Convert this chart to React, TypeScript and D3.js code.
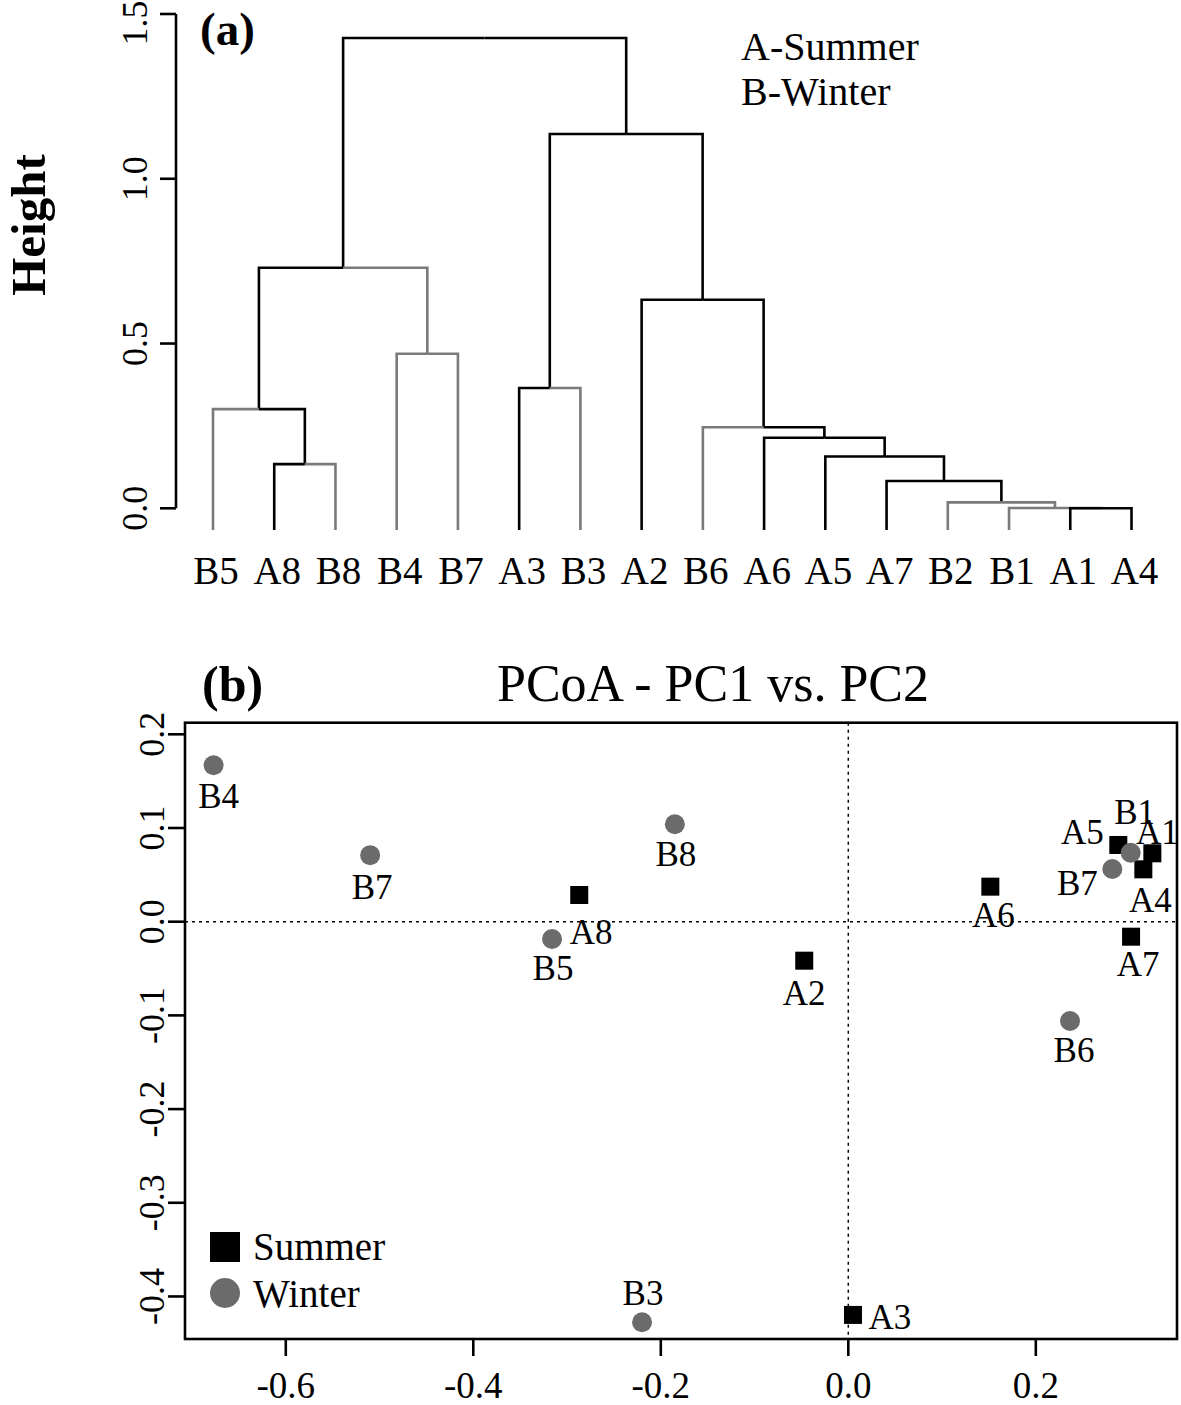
import React from "react";
import * as d3 from "d3";

// ---------- Panel (a): dendrogram data ----------
const leaves = ["B5", "A8", "B8", "B4", "B7", "A3", "B3", "A2", "B6", "A6", "A5", "A7", "B2", "B1", "A1", "A4"];
// merges: [left child, right child, height]; internal nodes are named n1, n2, ... in order
const mergeLeft = ["A1", "B1", "B2", "A7", "A5", "A8", "A6", "B6", "B5", "A3", "B4", "A2", "n9", "n10", "n13"];
const mergeRight = ["A4", "n1", "n2", "n3", "n4", "B8", "n5", "n7", "n6", "B3", "B7", "n8", "n11", "n12", "n14"];
const mergeHeight = [0.0, 0.001, 0.018, 0.083, 0.157, 0.134, 0.214, 0.246, 0.301, 0.365, 0.469, 0.633, 0.73, 1.136, 1.427];
const grayEdges = ["B5", "B8", "n11", "B4", "B7", "B3", "B6", "B2", "n2", "B1", "n1"];
const heightTicks = [0, 0.5, 1.0, 1.5];
const leafHang = -0.066;

// ---------- Panel (b): PCoA data ----------
const sampleNames = ["B4", "B7", "B8", "A8", "B5", "A2", "B3", "A3", "A6", "B6", "A7", "A5", "B1", "A1", "A4", "B7"];
const sampleSeason = ["Winter", "Winter", "Winter", "Summer", "Winter", "Summer", "Winter", "Summer", "Summer", "Winter", "Summer", "Summer", "Winter", "Summer", "Summer", "Winter"];
const pc1 = [-0.677, -0.510, -0.185, -0.287, -0.316, -0.047, -0.220, 0.005, 0.1515, 0.2365, 0.3016, 0.288, 0.3012, 0.3243, 0.3147, 0.2816];
const pc2 = [0.167, 0.071, 0.104, 0.0285, -0.0185, -0.0416, -0.4275, -0.4197, 0.0374, -0.106, -0.016, 0.0819, 0.0736, 0.073, 0.0559, 0.0562];
// label offsets (px) relative to point, styling only
const labelDx = [5, 2, 1, 12, 1, 0, 1, 37, 3, 4, 7, -36, 4, 5, 7, -35];
const labelDy = [31, 32, 30, 37, 29, 32, -29, 2, 28, 29, 27, -13, -41, -21, 31, 14];
const xTicks = [-0.6, -0.4, -0.2, 0.0, 0.2];
const yTicks = [0.2, 0.1, 0.0, -0.1, -0.2, -0.3, -0.4];
const legendItems = ["Summer", "Winter"];

const FONT = "'Liberation Serif', 'Times New Roman', serif";
const GRAY_LINE = "#7a7a7a";
const GRAY_PT = "#6b6b6b";

function Dendrogram() {
  const xLeaf = d3.scalePoint<string>().domain(leaves).range([213, 1131.5]);
  const yH = d3.scaleLinear().domain([0, 1.5]).range([508.3, 14]);
  const nodes: Record<string, { x: number; h: number }> = {};
  leaves.forEach((l) => (nodes[l] = { x: xLeaf(l)!, h: leafHang }));
  mergeLeft.forEach((a, i) => {
    const b = mergeRight[i];
    nodes["n" + (i + 1)] = { x: (nodes[a].x + nodes[b].x) / 2, h: mergeHeight[i] };
  });
  const segs: { d: string; gray: boolean; key: string }[] = [];
  for (let i = mergeLeft.length - 1; i >= 0; i--) {
    const p = nodes["n" + (i + 1)];
    [mergeLeft[i], mergeRight[i]].forEach((c) => {
      const ch = nodes[c];
      const path = d3.path();
      path.moveTo(p.x, yH(p.h));
      path.lineTo(ch.x, yH(p.h));
      path.lineTo(ch.x, yH(ch.h));
      segs.push({ d: path.toString(), gray: grayEdges.includes(c), key: "n" + (i + 1) + "-" + c });
    });
  }
  return (
    <g>
      {segs.map((s) => (
        <path key={s.key} d={s.d} fill="none" stroke={s.gray ? GRAY_LINE : "#000"} strokeWidth={2.6} strokeLinejoin="miter" strokeLinecap="butt" />
      ))}
      {/* y axis */}
      <line x1={176} x2={176} y1={yH(1.5)} y2={yH(0)} stroke="#000" strokeWidth={2.6} />
      {heightTicks.map((t) => (
        <g key={t}>
          <line x1={160} x2={176} y1={yH(t)} y2={yH(t)} stroke="#000" strokeWidth={2.6} />
          <text transform={`translate(147,${t === 1.5 ? yH(t) + 9 : yH(t)}) rotate(-90)`} textAnchor="middle" fontFamily={FONT} fontSize={36}>
            {t.toFixed(1)}
          </text>
        </g>
      ))}
      <text transform={`translate(45,225) rotate(-90)`} textAnchor="middle" fontFamily={FONT} fontSize={49} fontWeight="bold">
        Height
      </text>
      {leaves.map((l) => (
        <text key={l} x={xLeaf(l)! + 3} y={584} textAnchor="middle" fontFamily={FONT} fontSize={39}>
          {l}
        </text>
      ))}
      <text x={200} y={45} fontFamily={FONT} fontSize={47} fontWeight="bold">(a)</text>
      <text x={741} y={60} fontFamily={FONT} fontSize={40}>A-Summer</text>
      <text x={741} y={105} fontFamily={FONT} fontSize={40}>B-Winter</text>
    </g>
  );
}

function PCoA() {
  const x = d3.scaleLinear().domain([-0.7075, 0.3506]).range([185, 1177]);
  const y = d3.scaleLinear().domain([-0.4454, 0.2124]).range([1339, 722.7]);
  const [x0, x1] = x.range();
  const [y0, y1] = y.range();
  const idx = sampleNames.map((_, i) => i);
  const squares = idx.filter((i) => sampleSeason[i] === "Summer");
  const circles = idx.filter((i) => sampleSeason[i] === "Winter");
  const sq = 18;
  return (
    <g>
      <text x={202} y={701} fontFamily={FONT} fontSize={50} fontWeight="bold">(b)</text>
      <text x={713} y={701} textAnchor="middle" fontFamily={FONT} fontSize={52}>PCoA - PC1 vs. PC2</text>
      {/* reference lines */}
      <line x1={x(0)} x2={x(0)} y1={y1} y2={y0} stroke="#000" strokeWidth={1.5} strokeDasharray="3,4" />
      <line x1={x0} x2={x1} y1={y(0)} y2={y(0)} stroke="#000" strokeWidth={1.5} strokeDasharray="3,4" />
      {/* points */}
      {squares.map((i) => (
        <rect key={"s" + i} x={x(pc1[i]) - sq / 2} y={y(pc2[i]) - sq / 2} width={sq} height={sq} fill="#000" />
      ))}
      {circles.map((i) => (
        <circle key={"c" + i} cx={x(pc1[i])} cy={y(pc2[i])} r={10} fill={GRAY_PT} />
      ))}
      {idx.map((i) => (
        <text key={"t" + i} x={x(pc1[i]) + labelDx[i]} y={y(pc2[i]) + labelDy[i] + 12} textAnchor="middle" fontFamily={FONT} fontSize={35}>
          {sampleNames[i]}
        </text>
      ))}
      {/* box */}
      <rect x={x0} y={y1} width={x1 - x0} height={y0 - y1} fill="none" stroke="#000" strokeWidth={2.6} />
      {/* x axis */}
      {xTicks.map((t) => (
        <g key={t}>
          <line x1={x(t)} x2={x(t)} y1={y0} y2={y0 + 17} stroke="#000" strokeWidth={2.6} />
          <text x={x(t)} y={1398} textAnchor="middle" fontFamily={FONT} fontSize={37}>
            {t.toFixed(1)}
          </text>
        </g>
      ))}
      {/* y axis */}
      {yTicks.map((t) => (
        <g key={t}>
          <line x1={x0 - 17} x2={x0} y1={y(t)} y2={y(t)} stroke="#000" strokeWidth={2.6} />
          <text transform={`translate(164,${y(t)}) rotate(-90)`} textAnchor="middle" fontFamily={FONT} fontSize={36}>
            {t.toFixed(1)}
          </text>
        </g>
      ))}
      {/* legend */}
      {legendItems.map((l, i) => (
        <g key={l}>
          {i === 0 ? (
            <rect x={210} y={1232} width={30} height={30} fill="#000" />
          ) : (
            <circle cx={225} cy={1293} r={15} fill={GRAY_PT} />
          )}
          <text x={253} y={1260 + i * 47} fontFamily={FONT} fontSize={39}>
            {l}
          </text>
        </g>
      ))}
    </g>
  );
}

export default function App() {
  return (
    <svg width={1181} height={1405} style={{ position: "absolute", left: 0, top: 0, background: "#fff" }}>
      <rect x={0} y={0} width={1181} height={1405} fill="#fff" />
      <Dendrogram />
      <PCoA />
    </svg>
  );
}
